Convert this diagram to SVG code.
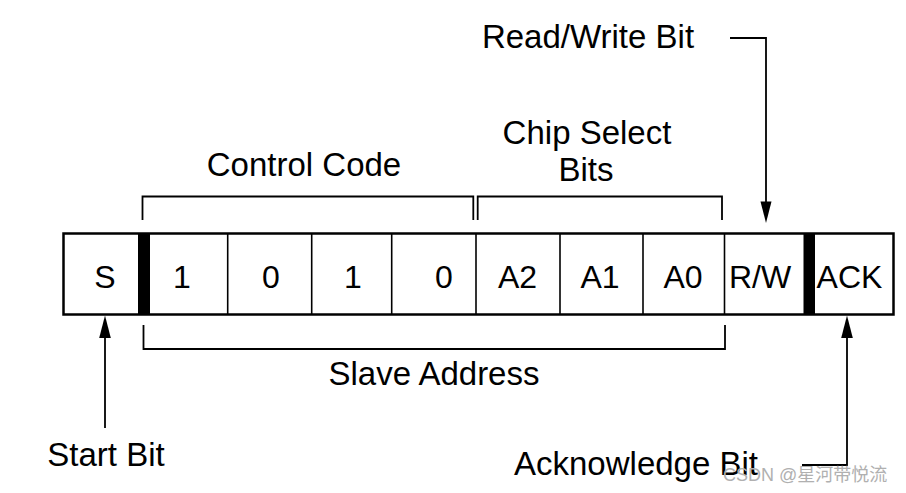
<svg xmlns="http://www.w3.org/2000/svg" width="906" height="493" viewBox="0 0 906 493">
<style>
  .lbl { font-family: "Liberation Sans", Arial, sans-serif; font-size: 33px; fill: #000; }
  .cell { font-family: "Liberation Sans", Arial, sans-serif; font-size: 32px; fill: #000; text-anchor: middle; }
  .ln { fill: none; stroke: #000; stroke-width: 1.8; }
  .div { stroke: #000; stroke-width: 1.6; }
  .head { fill: #000; stroke: none; }
  .wm { font-family: "Liberation Sans", "Noto Sans CJK SC", sans-serif; font-size: 18px; fill: #b0b0b0; }
</style>
<rect width="906" height="493" fill="#fff"/>

<g id="frame">
  <rect x="63.5" y="233.5" width="830" height="81" fill="#fff" stroke="#000" stroke-width="2.5"/>
  <rect x="138" y="233.5" width="12" height="81" fill="#000"/>
  <rect x="803.5" y="233.5" width="11.5" height="81" fill="#000"/>
  <line class="div" x1="227.7" y1="233.5" x2="227.7" y2="314.5"/>
  <line class="div" x1="311.7" y1="233.5" x2="311.7" y2="314.5"/>
  <line class="div" x1="391.7" y1="233.5" x2="391.7" y2="314.5"/>
  <line class="div" x1="476" y1="233.5" x2="476" y2="314.5"/>
  <line class="div" x1="560" y1="233.5" x2="560" y2="314.5"/>
  <line class="div" x1="643" y1="233.5" x2="643" y2="314.5"/>
  <line class="div" x1="724.5" y1="233.5" x2="724.5" y2="314.5"/>
</g>

<g id="cell-S"><text class="cell" x="105" y="288">S</text></g>
<g id="cell-1a"><text class="cell" x="182" y="288">1</text></g>
<g id="cell-0a"><text class="cell" x="271" y="288">0</text></g>
<g id="cell-1b"><text class="cell" x="353" y="288">1</text></g>
<g id="cell-0b"><text class="cell" x="444" y="288">0</text></g>
<g id="cell-A2"><text class="cell" x="517.5" y="288">A2</text></g>
<g id="cell-A1"><text class="cell" x="600" y="288">A1</text></g>
<g id="cell-A0"><text class="cell" x="683" y="288">A0</text></g>
<g id="cell-RW"><text class="cell" x="760" y="288">R/W</text></g>
<g id="cell-ACK"><text class="cell" x="849.5" y="288">ACK</text></g>

<g id="label-control-code"><text class="lbl" x="304" y="176" text-anchor="middle">Control Code</text></g>
<g id="label-chip-select"><text class="lbl" x="587" y="143.5" text-anchor="middle">Chip Select</text><text class="lbl" x="586" y="181" text-anchor="middle">Bits</text></g>
<g id="label-read-write"><text class="lbl" x="588" y="47.5" text-anchor="middle">Read/Write Bit</text></g>
<g id="label-slave-address"><text class="lbl" x="434" y="384.5" text-anchor="middle">Slave Address</text></g>
<g id="label-start-bit"><text class="lbl" x="106" y="466" text-anchor="middle">Start Bit</text></g>
<g id="label-ack-bit"><text class="lbl" x="514" y="475">Acknowledge Bit</text></g>

<g id="connectors">
  <polyline class="ln" points="142.5,220 142.5,196.5 473.3,196.5 473.3,220"/>
  <polyline class="ln" points="477.7,220 477.7,196.5 722,196.5 722,220"/>
  <polyline class="ln" points="143.5,325 143.5,349 725,349 725,325"/>
  <polyline class="ln" points="730,38 766,38 766,203"/>
  <polygon class="head" points="760.5,201.5 771.5,201.5 766,223"/>
  <line class="ln" x1="105" y1="428" x2="105" y2="337"/>
  <polygon class="head" points="99.2,338 110.8,338 105,315.5"/>
  <polyline class="ln" points="802,465 847,465 847,337"/>
  <polygon class="head" points="841.2,338 852.8,338 847,315.5"/>
</g>

<g id="watermark"><text class="wm" x="723" y="481">CSDN @星河带悦流</text></g>
</svg>
